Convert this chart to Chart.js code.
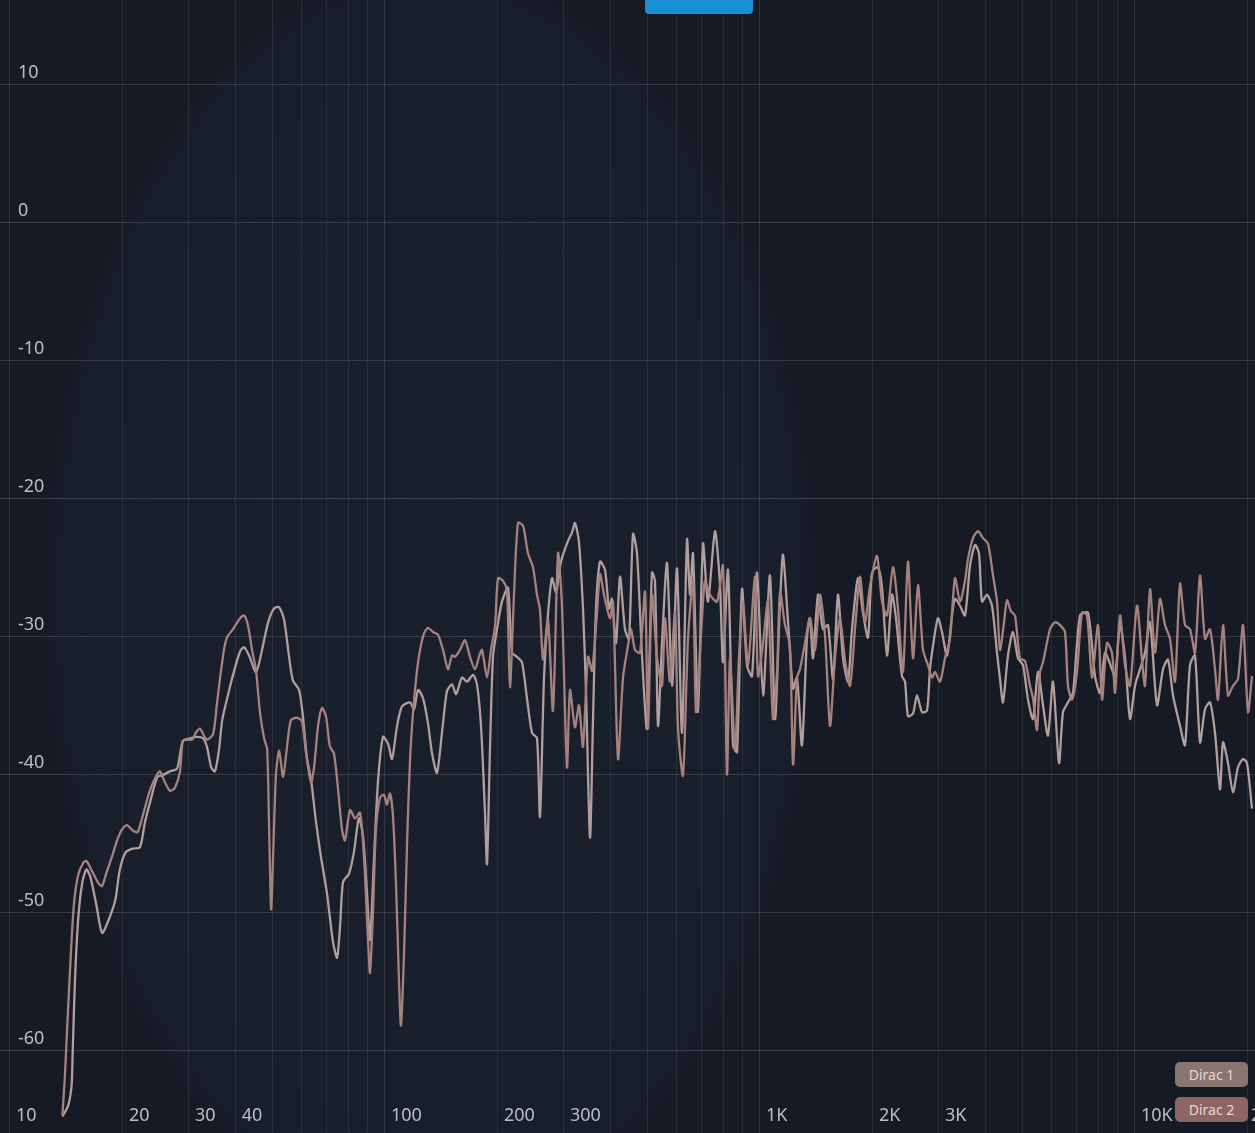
<!DOCTYPE html>
<html><head><meta charset="utf-8">
<script src="https://cdn.jsdelivr.net/npm/chart.js@4.4.1/dist/chart.umd.min.js"></script>
<style>
html,body{margin:0;padding:0;background:#151a24;}
#wrap{position:relative;width:1255px;height:1133px;overflow:hidden;background:#151a24;}
#bg{position:absolute;left:0;top:0;width:1255px;height:1133px;
 background:radial-gradient(ellipse 390px 640px at 430px 600px,#1a1f2c 0%,#191e2b 95%,rgba(25,30,43,0) 100%);}
canvas{position:absolute;left:0;top:0;}
.btn{position:absolute;left:645px;top:-6px;width:108px;height:20px;background:#1b8fd6;border-radius:4px;}
.leg{position:absolute;left:1175px;width:73px;height:25px;border-radius:5px;font:14px "Noto Sans",sans-serif;color:#e2d9d7;text-align:center;line-height:25px;}
</style></head>
<body><div id="wrap"><div id="bg"></div><canvas id="c" width="1255" height="1133"></canvas><div class="btn"></div>
<div class="leg" style="top:1062px;background:#8b7572">Dirac 1</div>
<div class="leg" style="top:1097px;background:#8d6563">Dirac 2</div></div>
<script>
// ---- data (frequency in Hz, level in dB) ----
const seriesNames = ["Dirac 1", "Dirac 2"];
const freq1 = [13.8,14.3,14.6,14.7,14.9,15.2,15.6,16.0,16.4,17.0,17.6,18.3,19.1,19.6,20.3,21.2,22.2,22.9,23.6,24.7,25.4,26.7,27.9,28.9,30.2,31.5,32.7,33.5,34.4,35.2,36.1,36.8,38.1,39.8,41.1,42.1,43.4,45.3,47.0,48.8,50.6,52.2,53.8,55.5,56.8,59.0,60.4,61.9,63.5,65.5,67.5,70.0,72.7,74.5,75.9,77.3,80.2,82.7,85.2,87.4,89.5,91.2,93.5,95.8,98.8,101.9,104.4,107.7,111.0,116.6,119.5,122.5,126.3,130.2,133.5,137.6,141.9,146.3,150.9,154.7,160.5,165.5,171.7,175.9,180.3,184.8,187.1,190.6,194.1,198.9,205.1,212.8,218.1,224.9,231.9,239.1,246.6,254.3,259.0,265.5,272.1,278.8,285.8,294.7,307.6,315.3,321.1,329.1,337.3,343.6,352.1,358.7,365.3,374.4,386.1,395.7,403.0,413.1,423.3,436.5,447.4,458.5,469.9,484.6,499.7,515.2,524.8,534.6,547.9,565.0,582.6,600.7,619.5,638.8,650.6,662.7,683.4,704.7,726.7,758.6,782.2,796.8,821.6,847.2,868.3,895.4,923.3,952.1,981.8,1019,1063,1097,1131,1152,1188,1225,1255,1294,1335,1359,1385,1428,1472,1518,1566,1614,1665,1717,1759,1825,1882,1941,1989,2064,2115,2181,2249,2305,2391,2436,2481,2559,2622,2704,2788,2840,2893,2983,3057,3153,3251,3311,3415,3521,3631,3744,3837,3909,4030,4156,4286,4365,4446,4585,4728,4875,5027,5184,5346,5512,5684,5861,6044,6271,6427,6627,6834,7134,7493,7822,8066,8318,8577,8844,9120,9404,9698,10000,10312,10633,10965,11447,11876,12247,12629,13183,13594,14018,14455,14905,15370,15849,16343,16853,17166,17701,18253,18822,19411,19891,20512];
const db1 = [-64.8,-64.0,-62.5,-60,-55,-50.5,-47.8,-46.9,-47.5,-49.5,-51.5,-50.6,-49.1,-47,-45.7,-45.4,-45.3,-43.5,-42.1,-40.2,-40.1,-39.8,-39.6,-37.6,-37.4,-37.3,-37.4,-38,-39.5,-39.8,-38.2,-36.1,-34.3,-32.3,-31.1,-30.8,-31.4,-32.6,-31,-29,-28,-27.9,-28.8,-31.5,-33.2,-33.9,-35.8,-38.8,-40.4,-43.5,-46,-48.6,-52.2,-53.3,-51,-47.8,-47.2,-45.6,-43.2,-44.5,-48.5,-52,-46,-40.5,-37.3,-37.8,-38.9,-36.5,-35.1,-34.8,-35.3,-33.9,-34.5,-36.3,-38.5,-39.9,-37,-34,-33.5,-34.2,-33,-33.3,-32.8,-33.5,-36.5,-42.8,-46.5,-38,-31.5,-29.5,-27.5,-26.5,-31.2,-31.5,-31.9,-34.5,-37,-37.4,-43.1,-33,-28.4,-25.8,-26.8,-24.6,-23.1,-22.5,-21.8,-23.2,-28,-34,-44.6,-36,-28,-24.6,-25.2,-28,-27.3,-30.5,-25.7,-29.5,-30.2,-22.6,-24,-31.4,-36.7,-25.4,-26,-36.5,-30.5,-24.7,-33.6,-25.1,-37,-23,-27,-24,-35.5,-23.3,-27.5,-22.4,-26.3,-31.9,-25.2,-37.9,-38.4,-26.6,-32.1,-32.9,-25.4,-34.3,-25.6,-36,-27.5,-24.1,-29,-33.8,-33,-37.9,-30,-28.7,-31.6,-27,-29.5,-29.2,-33.1,-27,-31.6,-33.3,-29.5,-25.8,-28.3,-30.1,-25.4,-25,-26.5,-31.4,-27,-28.7,-32.9,-33.3,-35.8,-35.6,-34.3,-35.5,-35.4,-32.4,-30.7,-28.7,-29.7,-31.4,-28.5,-27.3,-27.8,-28.5,-24.9,-23.4,-24,-27.5,-27,-27.8,-31.2,-33.1,-34.8,-31.4,-29.7,-31.6,-32.1,-34.6,-36,-32.6,-35,-37.2,-33.3,-39.2,-35.5,-34.8,-34.1,-28.5,-28.3,-32.9,-34.1,-31.2,-32,-32.9,-29.2,-31.5,-36,-33.6,-32.4,-31.2,-29,-35,-32.4,-31.7,-34.3,-36.5,-37.9,-32.1,-31.4,-37.7,-35.3,-34.8,-37,-41.1,-37.7,-39.2,-41.3,-39.5,-38.9,-39.2,-42.5];
const freq2 = [13.8,14.0,14.2,14.5,14.8,15.2,15.7,16.0,16.6,17.2,17.6,18.1,18.7,19.3,19.9,20.5,21.3,21.9,22.6,23.6,24.7,25.1,25.9,26.7,27.5,28.4,28.9,29.8,30.6,31.3,32.1,32.9,33.5,34.8,35.6,36.3,37.2,37.9,39.3,41.1,42.1,43.1,44.2,45.3,46.4,47.6,48.5,49.1,49.7,50.3,51.2,52.2,53.5,54.8,56.1,58.3,60.1,61.6,63.5,64.7,66.3,67.9,69.6,71.3,73.1,74.9,76.8,78.2,80.7,83.2,85.8,87.9,90.1,91.2,92.9,94.6,97.0,99.4,101.2,103.1,105.0,107.0,109.0,110.3,112.4,114.5,116.6,118.8,121.7,124.0,127.1,130.2,134.3,138.5,142.8,147.2,150.9,153.7,158.5,163.4,168.5,173.8,178.1,181.4,187.1,191.7,196.5,200.2,206.4,211.5,215.4,220.8,226.3,233.4,240.6,248.1,254.3,259.0,263.8,272.1,280.5,289.3,296.5,305.7,311.4,321.1,329.1,337.3,347.8,356.5,367.6,374.4,383.7,398.1,405.5,418.2,431.2,444.6,452.9,464.2,478.6,493.6,502.7,515.2,531.3,547.9,558.0,575.4,593.4,604.4,623.3,642.7,662.7,675.3,700.4,713.4,735.6,768.0,796.8,816.6,831.8,857.7,878.7,900.9,929.0,969.8,987.8,1019,1050,1083,1110,1131,1166,1202,1225,1255,1278,1318,1359,1402,1445,1491,1537,1585,1634,1685,1738,1792,1848,1905,1965,2051,2115,2181,2263,2333,2406,2481,2559,2638,2721,2805,2875,2929,3020,3114,3211,3311,3415,3521,3587,3698,3814,3933,4055,4182,4286,4365,4474,4557,4670,4786,4936,5089,5248,5346,5479,5580,5684,5934,6119,6310,6506,6627,6792,7004,7222,7448,7680,7968,8166,8420,8683,8844,9120,9404,9698,10124,10439,10633,10965,11307,11659,12023,12398,12784,13183,13594,14018,14455,14905,15370,15849,16343,16647,17166,17701,18253,18822,19411,20015,20512];
const db2 = [-64.7,-62,-58.5,-53.5,-49.5,-47.3,-46.4,-46.3,-47.1,-47.9,-48.1,-47.1,-46,-44.8,-44,-43.7,-44.1,-44.2,-43,-41.2,-40,-39.8,-40.6,-41.2,-41,-39.8,-37.6,-37.5,-37.5,-37,-36.7,-37.2,-37.5,-37.1,-35,-33.1,-31,-30.1,-29.5,-28.7,-28.5,-29.2,-31,-32.5,-35.5,-37.4,-38.2,-44,-49.8,-46,-40,-38.3,-40.2,-38,-36.1,-35.9,-36.2,-38.5,-40.6,-39.5,-36.5,-35.2,-35.8,-38,-38.5,-41,-44,-44.8,-42.6,-43.2,-42.8,-46,-52,-54.4,-50,-44,-41.7,-41.5,-42.2,-41.4,-43,-48,-55,-58.2,-53,-45,-39,-35.5,-32.5,-31,-29.8,-29.4,-29.7,-29.9,-31,-32.4,-31.4,-31.5,-31,-30.3,-31.5,-32.4,-31.5,-31,-33,-31,-29.3,-25.8,-26,-26.7,-33.7,-27,-21.8,-22,-24,-25,-27,-28.1,-31.7,-28.8,-35.4,-24,-27.9,-39.5,-33.9,-36.6,-35,-38,-31.5,-32.5,-28.3,-25.5,-27,-28.7,-27.5,-38.9,-33,-30.7,-29.5,-31,-31.2,-26.8,-36.7,-27,-31.5,-33.6,-28.7,-33.3,-28.3,-36.7,-40.1,-30.2,-26.1,-35.5,-28.7,-26,-27,-27.5,-24.9,-40,-31.6,-38.2,-31.6,-27.5,-32.1,-25.7,-32.9,-30.5,-27.5,-36,-32.6,-26.8,-29.2,-30.7,-39.3,-33,-32.4,-30.5,-28.7,-31,-27,-30,-36.5,-31.6,-28.7,-31.7,-33.6,-29.5,-25.7,-29,-26.4,-24.2,-27.5,-28.5,-25,-28,-32.6,-24.6,-31.6,-26.3,-31,-32.1,-33,-32.6,-33.3,-31.6,-30.2,-25.8,-27.5,-26,-24.4,-22.9,-22.4,-22.9,-23.3,-25.6,-27.5,-31,-29,-27.4,-28.2,-28.5,-31.6,-31.8,-33.6,-34.5,-36.8,-32.6,-31.9,-29.5,-29,-29.2,-29.7,-33.6,-34.6,-32.6,-28.3,-28.5,-33,-29.2,-34.6,-30.5,-31.2,-34.1,-28.5,-32.1,-33.6,-27.8,-31.7,-33.6,-26.6,-31.2,-27.3,-29.2,-30.2,-33.3,-26.2,-29.2,-29.5,-31.2,-25.6,-30.2,-29.5,-32.4,-34.6,-29.2,-34.3,-33.6,-33.1,-29.2,-35.5,-32.9];
// ---- axes ----
const xGridValues = [10,20,30,40,50,60,70,80,90,100,200,300,400,500,600,700,800,900,1000,2000,3000,4000,5000,6000,7000,8000,9000,10000,20000];
const xLabelValues = [10,20,30,40,100,200,300,1000,2000,3000,10000,20000];
const xLabelTexts = ["10","20","30","40","100","200","300","1K","2K","3K","10K","20K"];
const yTickValues = [-60,-50,-40,-30,-20,-10,0,10];

const toPts = (f, d) => f.map((v, i) => ({x: v, y: d[i]}));

const labelPlugin = {
  id: 'axisLabels',
  afterDatasetsDraw(chart) {
    const ctx = chart.ctx, xs = chart.scales.x, ys = chart.scales.y;
    ctx.save();
    ctx.fillStyle = '#b9bdc7';
    ctx.font = '18px "Noto Sans", sans-serif';
    ctx.textBaseline = 'alphabetic';
    ctx.textAlign = 'left';
    yTickValues.forEach(v => ctx.fillText(String(v), 18, ys.getPixelForValue(v) - 6));
    xLabelValues.forEach((v, i) => {
      const off = v === 20000 ? 3 : 6;
      ctx.fillText(xLabelTexts[i], xs.getPixelForValue(v) + off, 1121);
    });
    ctx.restore();
  }
};

new Chart(document.getElementById('c'), {
  type: 'line',
  data: {
    datasets: [
      {label: seriesNames[0], data: toPts(freq1, db1), borderColor: '#b09f9d', order: 2},
      {label: seriesNames[1], data: toPts(freq2, db2), borderColor: '#a6827e', order: 1}
    ]
  },
  options: {
    responsive: false, animation: false, devicePixelRatio: 1,
    layout: {padding: 0},
    plugins: {legend: {display: false}, tooltip: {enabled: false}},
    elements: {point: {radius: 0}, line: {borderWidth: 2.3, tension: 0.25}},
    scales: {
      x: {
        type: 'logarithmic', min: 9.405, max: 20893,
        afterBuildTicks: s => { s.ticks = xGridValues.map(v => ({value: v})); },
        ticks: {display: false},
        grid: {drawTicks: false, lineWidth: 1,
          color: c => ([10,100,1000,10000].includes(c.tick && c.tick.value) ? 'rgba(255,255,255,0.12)' : 'rgba(255,255,255,0.07)')},
        border: {display: false}
      },
      y: {
        type: 'linear', min: -66.0, max: 16.09,
        afterBuildTicks: s => { s.ticks = yTickValues.map(v => ({value: v})); },
        ticks: {display: false},
        grid: {drawTicks: false, lineWidth: 1, color: 'rgba(255,255,255,0.14)'},
        border: {display: false}
      }
    }
  },
  plugins: [labelPlugin]
});
</script>
</body></html>
